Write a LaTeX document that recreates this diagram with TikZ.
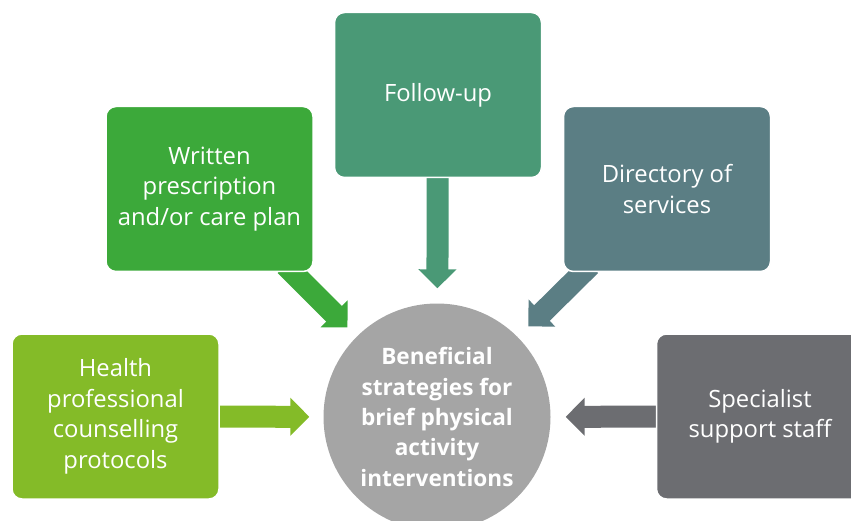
\documentclass[tikz,border=0pt]{standalone}
\usepackage{fontspec}
\setmainfont{Open Sans}
\usetikzlibrary{arrows.meta, backgrounds}
\definecolor{followup}{RGB}{74, 153, 118}
\definecolor{written}{RGB}{60, 169, 58}
\definecolor{directory}{RGB}{91, 126, 132}
\definecolor{health}{RGB}{132, 187, 40}
\definecolor{specialist}{RGB}{108, 109, 113}
\definecolor{hubgrey}{RGB}{165, 165, 165}

\begin{document}
\begin{tikzpicture}[x=1pt, y=-1pt,
  box/.style={rounded corners=10pt, draw=white, line width=1.5pt, text=white,
    align=center, minimum width=207pt, minimum height=165pt,
    font=\fontsize{23.8}{30.5}\selectfont},
  thru/.style={line width=22pt, -{Triangle[width=37pt, length=19pt]}}]
  \useasboundingbox (0, 0) rectangle (851, 521);

  % Hub
  \node [circle, fill=hubgrey, text=white, minimum size=227pt, align=center,
    font=\fontsize{22.6}{30.3}\selectfont\bfseries] (hub) at (437, 417)
    {Beneficial\\strategies for\\brief physical\\activity\\interventions};

  % Boxes
  \node [box, fill=followup] (fu) at (438, 95) {Follow-up};
  \node [box, fill=written] (wp) at (209.5, 189) {Written\\prescription\\and/or care plan};
  \node [box, fill=directory] (ds) at (667, 189) {Directory of\\services};
  \node [box, fill=health] (hp) at (115.5, 416.5) {Health\\professional\\counselling\\protocols};
  \node [box, fill=specialist] (sp) at (760, 416.5) {Specialist\\support staff};

  % Arrows
  \begin{scope}[on background layer]
    \draw [thru, followup, shorten <=-10pt, shorten >=15pt] (fu) -- (hub);
    \draw [thru, written, shorten <=-10pt, shorten >=13pt] (wp) -- (hub);
    \draw [thru, directory, shorten <=-10pt, shorten >=15pt] (ds) -- (hub);
    \draw [thru, health, shorten <=-10pt, shorten >=14pt] (hp) -- (hub);
    \draw [thru, specialist, shorten <=-10pt, shorten >=15pt] (sp) -- (hub);
  \end{scope}
\end{tikzpicture}
\end{document}
